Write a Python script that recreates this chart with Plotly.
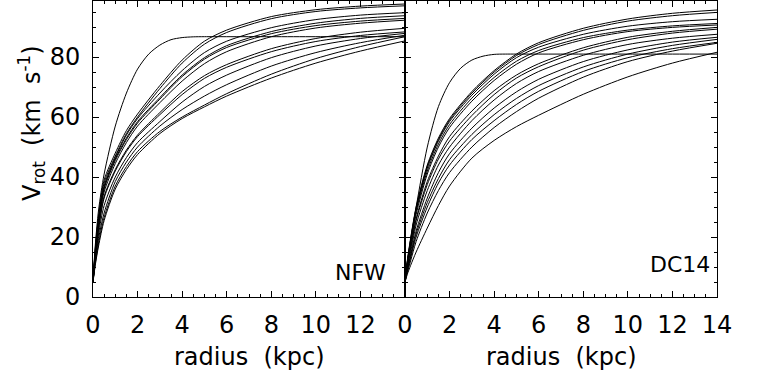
import plotly.graph_objects as go

# ---------------- data ----------------
r_grid = [0, 0.1, 0.25, 0.5, 1, 1.5, 2, 3, 4, 5, 6, 8, 10, 12, 14]

nfw_curves = [
    [5, 16, 27, 39, 48, 55.5, 61, 70.5, 79, 85.3, 89, 93.5, 95.8, 97, 97.7],
    [5, 15.5, 26.5, 38, 47, 54.5, 60, 69.5, 78, 84.3, 88.2, 92.8, 95.2, 96.4, 97.1],
    [5, 15, 25.5, 37, 46.5, 54, 59.5, 68, 75.5, 81.5, 85.3, 89.8, 92.5, 94, 94.8],
    [5, 14.5, 25, 36.5, 46, 53, 58.5, 66.5, 74, 79.8, 83.8, 88.5, 91.3, 92.9, 93.8],
    [5, 14.5, 24.5, 36, 45.5, 52.5, 58, 66, 73.5, 79.3, 83.2, 87.8, 90.5, 92, 92.9],
    [5, 14, 24, 35, 44.5, 51.5, 57, 64.8, 72, 77.8, 81.8, 86.8, 89.7, 91.3, 92.3],
    [5, 13.5, 23, 33.5, 42.5, 49, 54, 61.5, 68.5, 73.8, 77.5, 82.8, 86.2, 88.3, 89.6],
    [5, 13, 22.5, 33, 42, 48.5, 53.5, 60.8, 67.5, 72.9, 76.6, 81.8, 85.2, 87.2, 88.4],
    [5, 12.5, 21, 30.5, 40, 46.5, 51.5, 58.5, 65, 70.2, 74, 79.8, 83.7, 86.2, 87.9],
    [5, 12, 19.5, 28, 38.5, 45, 50, 57, 62.5, 67, 70.8, 77, 81.5, 84.8, 87.3],
    [5, 11, 18, 26.5, 37, 43.5, 48.5, 55.2, 60, 64, 67.8, 74.3, 79.5, 83.5, 86.8],
    [5, 10.5, 17, 25.5, 36, 42.5, 47.5, 54.5, 59.5, 63.4, 67, 73, 78, 82, 85.4],
]

dc14_curves = [
    [5, 12, 19.5, 30, 44, 53, 59.5, 68.5, 75.5, 81, 84.8, 89.6, 92.7, 94.6, 95.7],
    [5, 11.5, 19, 29.5, 43.5, 52.5, 59, 68, 75, 80.5, 84.2, 88.9, 92, 93.8, 94.9],
    [5, 11.5, 18.5, 29, 43, 52, 58.5, 67.3, 74.3, 79.8, 83.3, 87.6, 90.3, 91.8, 92.6],
    [5, 11, 18, 28.5, 42, 51, 57.5, 66.3, 73.2, 78.6, 82.2, 86.5, 89, 90.4, 91.2],
    [5, 11, 17.5, 27.5, 41, 50, 56.5, 65.3, 72.2, 77.6, 81.4, 85.8, 88.5, 89.9, 90.7],
    [5, 10.5, 16.5, 26, 38.5, 47, 53.5, 62, 68.8, 74, 77.8, 83.1, 86.6, 88.6, 89.9],
    [5, 10.5, 16, 25.5, 37.5, 46, 52, 60.5, 67.5, 73, 76.8, 82.3, 85.8, 88, 89.3],
    [5, 10, 15, 24, 35.5, 44, 50, 58.8, 65.7, 71.2, 75.2, 80.6, 84.2, 86.3, 87.6],
    [5, 9.5, 14, 22, 33, 41.5, 47.8, 56.3, 63, 68.4, 72.6, 78.5, 82.4, 85, 86.6],
    [5, 9, 13.5, 21, 31.5, 39.5, 45.8, 54.2, 60.8, 66.2, 70.5, 76.7, 81, 83.9, 85.9],
    [5, 8.5, 13, 20, 30, 38, 44, 52.5, 58.8, 64.2, 68.6, 75.2, 79.8, 82.8, 84.9],
    [5, 8, 12, 18.5, 28, 35.5, 41.5, 50, 56.5, 61.8, 66.3, 73.3, 78.5, 82, 84.6],
    [5, 7.5, 10.5, 15, 23, 30.5, 37, 46.3, 52.2, 56.8, 60.6, 67.6, 73.4, 78, 81.6],
]

r_special = [0, 0.1, 0.25, 0.5, 1, 1.5, 2, 2.5, 3, 3.5, 4, 4.5, 5, 6, 8, 10, 12, 14]
nfw_special = [5, 17, 29, 41, 57, 68, 76, 81, 84, 85.8, 86.5, 86.75, 86.8, 86.8, 86.8, 86.8, 86.8, 86.8]
dc14_special = [5, 11, 19, 30, 50, 63.5, 71.5, 76.3, 79, 80.3, 80.9, 81, 81, 81, 81, 81, 81, 81]

x_major = [0, 2, 4, 6, 8, 10, 12, 14]
x_labels_left = ["0", "2", "4", "6", "8", "10", "12", " "]
x_labels_right = ["0", "2", "4", "6", "8", "10", "12", "14"]
y_major = [0, 20, 40, 60, 80]
panel_labels = ["NFW", "DC14"]

# ---------------- figure ----------------
W, H = 757, 375
FONT = "DejaVu Sans"

fig = go.Figure()

def add_curve(x, y, xa, ya):
    fig.add_trace(go.Scatter(
        x=x, y=y, mode="lines", xaxis=xa, yaxis=ya,
        line=dict(color="black", width=1, shape="spline", smoothing=0.8),
        showlegend=False, hoverinfo="skip"))

for v in nfw_curves:
    add_curve(r_grid, v, "x", "y")
add_curve(r_special, nfw_special, "x", "y")
for v in dc14_curves:
    add_curve(r_grid, v, "x2", "y2")
add_curve(r_special, dc14_special, "x2", "y2")

def px_x(p):
    return p / W

def px_y(p):
    return 1 - p / H

x_left = (px_x(93), px_x(405))
x_right = (px_x(405), px_x(717))
y_dom = (px_y(297), px_y(1))

minor_x = dict(ticks="inside", dtick=0.5, ticklen=3, tickcolor="black", tickwidth=1)
minor_y = dict(ticks="inside", dtick=5, ticklen=3, tickcolor="black", tickwidth=1)

common_x = dict(range=[0, 14], showgrid=False, zeroline=False, showline=True,
                linecolor="black", linewidth=1, mirror="ticks", automargin=False,
                ticks="inside", ticklen=6, tickcolor="black", tickwidth=1,
                tickmode="array", tickvals=x_major,
                tickfont=dict(family=FONT, size=24, color="black"),
                ticklabelstandoff=6, minor=minor_x)
common_y = dict(range=[0, 98.7], showgrid=False, zeroline=False, showline=True,
                linecolor="black", linewidth=1, mirror="ticks", automargin=False,
                ticks="inside", ticklen=6, tickcolor="black", tickwidth=1,
                tickmode="array", tickvals=y_major,
                tickfont=dict(family=FONT, size=24, color="black"),
                ticklabelstandoff=7, minor=minor_y)

fig.update_layout(
    width=W, height=H,
    margin=dict(l=0, r=0, t=0, b=0, autoexpand=False),
    paper_bgcolor="white", plot_bgcolor="white",
    xaxis=dict(domain=list(x_left), anchor="y", ticktext=x_labels_left, **common_x),
    xaxis2=dict(domain=list(x_right), anchor="y2", ticktext=x_labels_right, **common_x),
    yaxis=dict(domain=list(y_dom), anchor="x", **common_y),
    yaxis2=dict(domain=list(y_dom), anchor="x2", showticklabels=False, **common_y),
)

ann_font = dict(family=FONT, size=24, color="black")
annotations = [
    dict(text="radius&nbsp;&nbsp;(kpc)", x=px_x(249), y=px_y(357), xref="paper", yref="paper",
         xanchor="center", yanchor="middle", showarrow=False, font=ann_font),
    dict(text="radius&nbsp;&nbsp;(kpc)", x=px_x(561), y=px_y(357), xref="paper", yref="paper",
         xanchor="center", yanchor="middle", showarrow=False, font=ann_font),
    dict(text="V<sub>rot</sub>&nbsp;&nbsp;(km&nbsp;&nbsp;s<sup>-1</sup>)", x=px_x(31), y=px_y(123),
         xref="paper", yref="paper", xanchor="center", yanchor="middle", textangle=-90,
         showarrow=False, font=ann_font),
    dict(text=panel_labels[0], x=px_x(388), y=px_y(272), xref="paper", yref="paper",
         xanchor="right", yanchor="middle", showarrow=False,
         font=dict(family=FONT, size=22, color="black")),
    dict(text=panel_labels[1], x=px_x(712), y=px_y(264), xref="paper", yref="paper",
         xanchor="right", yanchor="middle", showarrow=False,
         font=dict(family=FONT, size=22, color="black")),
]
fig.update_layout(annotations=annotations)

fig.write_html("out.html")
